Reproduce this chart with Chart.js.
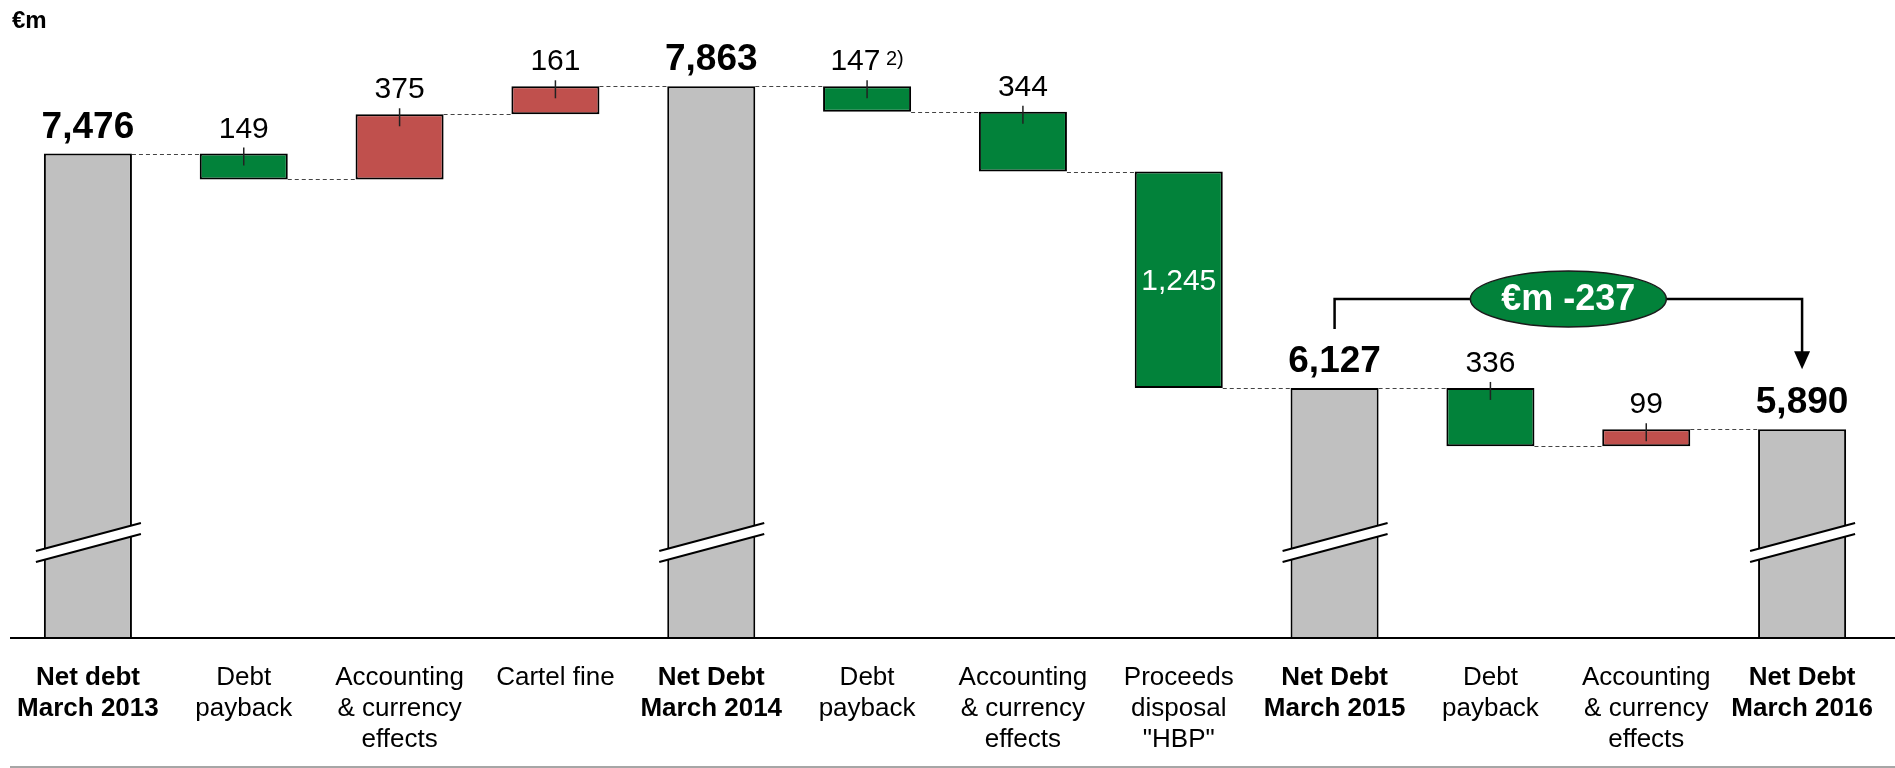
<!DOCTYPE html>
<html>
<head>
<meta charset="utf-8">
<script src="https://cdn.jsdelivr.net/npm/chart.js@4.4.1/dist/chart.umd.min.js"></script>
<style>
  body { margin: 0; background: #fff; }
  canvas { display: block; }
</style>
</head>
<body>
<canvas id="netDebtChart" width="1895" height="768"></canvas>
<script>
// net debt bridge, €m
const categories = [
    ['Net debt', 'March 2013'], ['Debt', 'payback'], ['Accounting', '& currency', 'effects'], ['Cartel fine'],
    ['Net Debt', 'March 2014'], ['Debt', 'payback'], ['Accounting', '& currency', 'effects'], ['Proceeds', 'disposal', '"HBP"'],
    ['Net Debt', 'March 2015'], ['Debt', 'payback'], ['Accounting', '& currency', 'effects'], ['Net Debt', 'March 2016']
]
const kinds = ['total', 'change', 'change', 'change', 'total', 'change', 'change', 'change', 'total', 'change', 'change', 'total']
const values = [7476, -149, 375, 161, 7863, -147, -344, -1245, 6127, -336, 99, 5890]
const footnotes = ['', '', '', '', '', '2)', '', '', '', '', '', '']
const axisMin = 4688
const axisMax = 8210

const family = '"Liberation Sans", Arial, sans-serif'
const grey = '#C0C0C0'
const green = '#02823A'
const red = '#C0504D'

// running level after each bar
let levels = []
let barData = []
let running = 0
values.forEach(function(v, i) {
    if (kinds[i] == 'total') {
        running = v
        barData.push(v)
    } else {
        barData.push([running, running + v])
        running += v
    }
    levels.push(running)
})

function fmt(n) {
    return Math.abs(n).toLocaleString('en-US')
}

const waterfallExtras = {
    id: 'waterfallExtras',
    afterDatasetsDraw(chart) {
        const ctx = chart.ctx
        const y = chart.scales.y
        const area = chart.chartArea
        const bars = chart.getDatasetMeta(0).data
        ctx.save()

        // dashed connectors
        ctx.setLineDash([4, 3])
        ctx.strokeStyle = '#444'
        ctx.lineWidth = 1
        for (let i = 0; i < bars.length - 1; i++) {
            const py = Math.round(y.getPixelForValue(levels[i])) + 0.5
            ctx.beginPath()
            ctx.moveTo(bars[i].x + bars[i].width / 2, py)
            ctx.lineTo(bars[i + 1].x - bars[i + 1].width / 2, py)
            ctx.stroke()
        }
        ctx.setLineDash([])

        // axis break marks on the totals
        bars.forEach(function(b, i) {
            if (kinds[i] != 'total') return
            const cx = b.x
            const by = area.bottom
            ctx.fillStyle = '#fff'
            ctx.beginPath()
            ctx.moveTo(cx - 52, by - 87)
            ctx.lineTo(cx + 53, by - 115)
            ctx.lineTo(cx + 53, by - 104)
            ctx.lineTo(cx - 52, by - 76)
            ctx.closePath()
            ctx.fill()
            ctx.strokeStyle = '#000'
            ctx.lineWidth = 2
            ctx.beginPath()
            ctx.moveTo(cx - 52, by - 87)
            ctx.lineTo(cx + 53, by - 115)
            ctx.moveTo(cx - 52, by - 76)
            ctx.lineTo(cx + 53, by - 104)
            ctx.stroke()
        })

        // value labels
        ctx.textAlign = 'center'
        ctx.fillStyle = '#000'
        bars.forEach(function(b, i) {
            const v = values[i]
            if (kinds[i] == 'total') {
                const top = y.getPixelForValue(v)
                ctx.font = 'bold 37px ' + family
                ctx.textBaseline = 'alphabetic'
                ctx.fillStyle = '#000'
                ctx.fillText(fmt(v), b.x, top - 16)
                return
            }
            const hi = Math.max(barData[i][0], barData[i][1])
            const lo = Math.min(barData[i][0], barData[i][1])
            const top = y.getPixelForValue(hi)
            const bottom = y.getPixelForValue(lo)
            if (bottom - top > 150) {
                ctx.font = '30px ' + family
                ctx.textBaseline = 'middle'
                ctx.fillStyle = '#fff'
                ctx.fillText(fmt(v), b.x, (top + bottom) / 2 + 2)
                return
            }
            // little tick line on the bar
            ctx.strokeStyle = '#222'
            ctx.lineWidth = 1.5
            ctx.beginPath()
            ctx.moveTo(b.x, top - 6)
            ctx.lineTo(b.x, top + 12)
            ctx.stroke()

            ctx.fillStyle = '#000'
            ctx.textBaseline = 'alphabetic'
            ctx.font = '30px ' + family
            const main = fmt(v)
            if (footnotes[i]) {
                const mw = ctx.measureText(main).width
                ctx.font = '20px ' + family
                const nw = ctx.measureText(' ' + footnotes[i]).width
                const start = b.x - (mw + nw) / 2
                ctx.textAlign = 'left'
                ctx.fillText(' ' + footnotes[i], start + mw, top - 21)
                ctx.font = '30px ' + family
                ctx.fillText(main, start, top - 16)
                ctx.textAlign = 'center'
            } else {
                ctx.fillText(main, b.x, top - 16)
            }
        })

        // axis line and bottom rule
        ctx.strokeStyle = '#000'
        ctx.lineWidth = 2
        ctx.beginPath()
        ctx.moveTo(10, area.bottom)
        ctx.lineTo(chart.width, area.bottom)
        ctx.stroke()
        ctx.strokeStyle = '#A6A6A6'
        ctx.beginPath()
        ctx.moveTo(10, chart.height - 1)
        ctx.lineTo(chart.width, chart.height - 1)
        ctx.stroke()

        // unit label
        ctx.fillStyle = '#000'
        ctx.textAlign = 'left'
        ctx.textBaseline = 'alphabetic'
        ctx.font = 'bold 24px ' + family
        ctx.fillText('€m', 12, 28)

        // bracket from March 2015 to March 2016
        const a = 8, z = 11
        const x0 = bars[a].x, x1 = bars[z].x
        const t0 = y.getPixelForValue(values[a])
        const t1 = y.getPixelForValue(values[z])
        const hy = t0 - 89
        ctx.strokeStyle = '#000'
        ctx.lineWidth = 2.5
        ctx.beginPath()
        ctx.moveTo(x0, t0 - 59)
        ctx.lineTo(x0, hy)
        ctx.lineTo(x1, hy)
        ctx.lineTo(x1, t1 - 76)
        ctx.stroke()
        ctx.fillStyle = '#000'
        ctx.beginPath()
        ctx.moveTo(x1 - 8, t1 - 78)
        ctx.lineTo(x1 + 8, t1 - 78)
        ctx.lineTo(x1, t1 - 60)
        ctx.closePath()
        ctx.fill()

        const ex = (x0 + x1) / 2
        ctx.fillStyle = green
        ctx.strokeStyle = '#1a1a1a'
        ctx.lineWidth = 1.5
        ctx.beginPath()
        ctx.ellipse(ex, hy, 98, 28, 0, 0, Math.PI * 2)
        ctx.fill()
        ctx.stroke()
        ctx.fillStyle = '#fff'
        ctx.textAlign = 'center'
        ctx.textBaseline = 'middle'
        ctx.font = 'bold 36px ' + family
        ctx.fillText('€m -' + fmt(values[z] - values[a]), ex, hy + 1)

        ctx.restore()
    }
}

const canvas = document.getElementById('netDebtChart')
new Chart(canvas, {
    type: 'bar',
    data: {
        labels: categories,
        datasets: [{
            data: barData,
            backgroundColor: kinds.map(function(k, i) {
                if (k == 'total') return grey
                return values[i] < 0 ? green : red
            }),
            borderColor: '#000',
            borderWidth: 2,
            borderSkipped: function(c) { return kinds[c.dataIndex] == 'total' ? 'start' : false },
            barPercentage: 0.565,
            categoryPercentage: 1
        }]
    },
    options: {
        responsive: false,
        animation: false,
        layout: { padding: { left: 10, right: 15, top: 26, bottom: 0 } },
        plugins: {
            legend: { display: false },
            tooltip: { enabled: false }
        },
        scales: {
            x: {
                grid: { display: false, drawTicks: true, tickLength: 24 },
                border: { display: false },
                afterFit: function(scale) { scale.height = 130 },
                ticks: {
                    autoSkip: false,
                    maxRotation: 0,
                    padding: 0,
                    color: '#000',
                    font: function(c) {
                        return { family: family, size: 26, weight: kinds[c.index] == 'total' ? 'bold' : 'normal', lineHeight: 1.2 }
                    }
                }
            },
            y: {
                display: false,
                min: axisMin,
                max: axisMax
            }
        }
    },
    plugins: [waterfallExtras]
})
</script>
</body>
</html>
